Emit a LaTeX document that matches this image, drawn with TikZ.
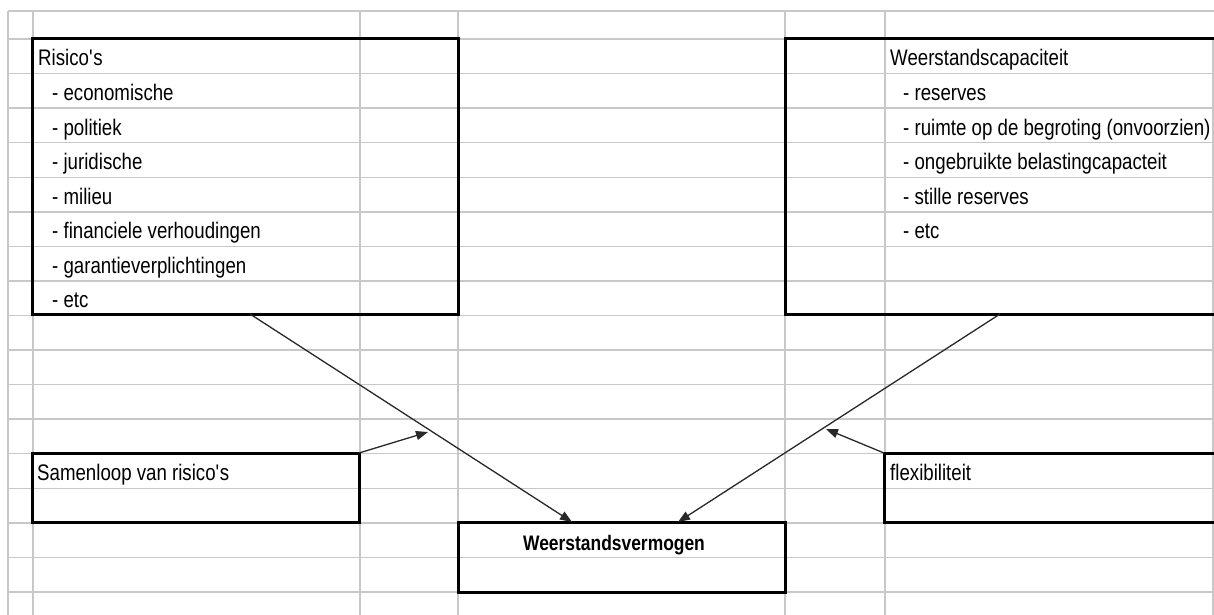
\documentclass[tikz,border=0pt]{standalone}
\usepackage{fontspec}
\setmainfont{Liberation Sans}[FakeStretch=0.83]
\usetikzlibrary{arrows.meta,calc,positioning}

\definecolor{gridgray}{RGB}{200,200,200}
\definecolor{linegray}{RGB}{40,40,40}

\begin{document}
\begin{tikzpicture}[x=1pt, y=-1pt,
  box/.style={draw, line width=3pt, rectangle, inner sep=0pt, outer sep=0pt, anchor=north west},
  txt/.style={anchor=base west, inner sep=0pt, font=\fontsize{22.5}{26}\selectfont},
  link/.style={-{Triangle[length=12pt,width=9pt]}, line width=1.3pt, draw=linegray}]
\useasboundingbox (0,0) rectangle (1214,615);

% spreadsheet grid
\draw[gridgray, line width=1.4pt] (8,11) -- (1214,11);
\foreach \r in {0,...,16}
  \draw[gridgray, line width=1.4pt] (8,{39+34.56*\r}) -- (1214,{39+34.56*\r});
\foreach \c in {8,33,360,458,785,885}
  \draw[gridgray, line width=1.4pt] (\c,11) -- (\c,615);
\draw[gridgray, line width=1.4pt] (1213,39) -- (1213,615);

% boxes
\node[box, minimum width=426pt, minimum height=275pt] (risico) at (32,39) {};
\node[box, minimum width=431pt, minimum height=275pt] (capaciteit) at (785,39) {};
\node[box, minimum width=327pt, minimum height=69pt] (samenloop) at (32,453) {};
\node[box, minimum width=332pt, minimum height=69pt] (flex) at (884,453) {};
\node[box, minimum width=327pt, minimum height=70pt] (vermogen) at (458,522) {};

% texts
\node[txt] (risicotitle) at (38,66) {Risico\textquotesingle s};
\foreach \t [count=\i] in {{economische},{politiek},{juridische},{milieu},{financiele verhoudingen},{garantieverplichtingen},{etc}}
  \node[txt] (risico\i) at (52,{66+34.56*\i}) {- \t};

\node[txt] (capaciteittitle) at (890,66) {Weerstandscapaciteit};
\foreach \t [count=\i] in {{reserves},{ruimte op de begroting (onvoorzien)},{ongebruikte belastingcapacteit},{stille reserves},{etc}}
  \node[txt] (capaciteit\i) at (903,{66+34.56*\i}) {- \t};

\node[txt] (samenlooptext) at (37,480) {Samenloop van risico\textquotesingle s};
\node[txt] (flextext) at (890,480) {flexibiliteit};
\node[txt, anchor=base, font=\fontsize{21}{24}\selectfont\bfseries] (vermogentext) at (614,550) {Weerstandsvermogen};

% connectors
\coordinate (rfoot) at ($(risico.south west)+(218,0)$);
\coordinate (cfoot) at ($(capaciteit.south west)+(215,0)$);
\coordinate (vleft) at ($(vermogen.north west)+(114,0)$);
\coordinate (vright) at ($(vermogen.north west)+(220,0)$);
\coordinate (tip1) at (428,432);
\coordinate (tip2) at (826,429);

\draw[link] (rfoot) -- (vleft);
\draw[link] (cfoot) -- (vright);
\draw[link] (samenloop.north east) -- (tip1);
\draw[link] (flex.north west) -- (tip2);
\end{tikzpicture}
\end{document}
